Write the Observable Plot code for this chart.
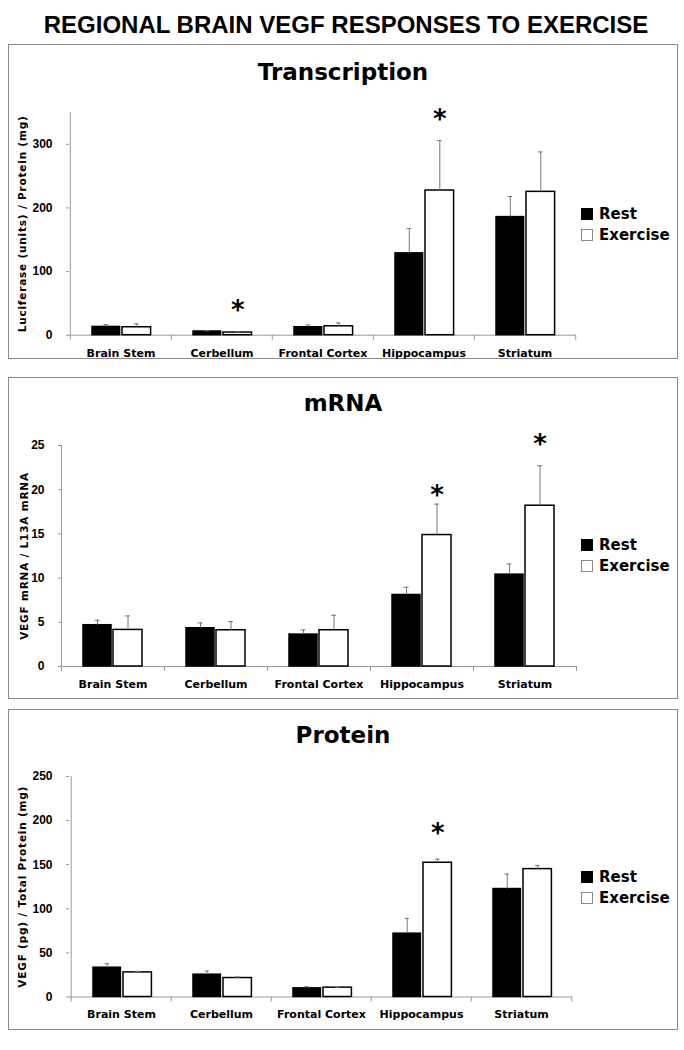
<!DOCTYPE html>
<html><head><meta charset="utf-8">
<script src="https://cdn.jsdelivr.net/npm/d3@7"></script>
<script src="https://cdn.jsdelivr.net/npm/@observablehq/plot@0.6"></script>
<style>
body{margin:0;background:#fff;width:684px;height:1050px;position:relative;font-family:"DejaVu Sans",Verdana,sans-serif;}
#title{position:absolute;left:0;width:692px;top:10px;text-align:center;font-family:"Liberation Sans",Arial,sans-serif;font-weight:bold;font-size:24px;line-height:30px;}
.panel{position:absolute;left:8px;width:670px;box-sizing:border-box;border:1px solid #8a8a8a;background:#fff;}
.panel svg{position:absolute;left:0;top:0;}
.ptitle{position:absolute;left:0;right:0;text-align:center;font-weight:bold;font-size:23px;line-height:28px;}
.legend{position:absolute;left:572px;font-weight:bold;font-size:15px;}
.legend .row{display:flex;align-items:center;height:21px;}
.legend .sw{width:12px;height:12px;box-sizing:border-box;margin-right:6px;}
</style>
</head><body>
<div id="title">REGIONAL BRAIN VEGF RESPONSES TO EXERCISE</div>
<div id="root"></div>
<script>
const regions = ["Brain Stem", "Cerbellum", "Frontal Cortex", "Hippocampus", "Striatum"];
const conditions = ["Rest", "Exercise"];

// Transcription
const transRest   = [13.0, 5.8, 12.5, 128.6, 185.6];
const transRestSE = [3.7, 1.0, 3.7, 39.2, 32.4];
const transEx     = [12.5, 4.2, 14.0, 227.4, 225.3];
const transExSE   = [5.3, 1.0, 5.3, 78.4, 62.7];
const transStarRegions = ["Cerbellum", "Hippocampus"];
const transStarY = [50, 349];
const transTicks = [0, 100, 200, 300];
const transMax = 350;

// mRNA
const mrnaRest   = [4.67, 4.33, 3.61, 8.09, 10.39];
const mrnaRestSE = [0.56, 0.60, 0.53, 0.87, 1.21];
const mrnaEx     = [4.14, 4.10, 4.10, 14.87, 18.19];
const mrnaExSE   = [1.58, 0.98, 1.70, 3.50, 4.51];
const mrnaStarRegions = ["Hippocampus", "Striatum"];
const mrnaStarY = [20.1, 25.9];
const mrnaTicks = [0, 5, 10, 15, 20, 25];
const mrnaMax = 25;

// Protein
const protRest   = [33.2, 25.3, 9.8, 71.8, 122.4];
const protRestSE = [4.6, 4.2, 1.9, 17.3, 17.0];
const protEx     = [27.9, 21.5, 10.6, 152.2, 145.0];
const protExSE   = [1.2, 1.2, 0.4, 4.1, 4.2];
const protStarRegions = ["Hippocampus"];
const protStarY = [192.6];
const protTicks = [0, 50, 100, 150, 200, 250];
const protMax = 250;

function rowsOf(rest, restSE, ex, exSE) {
  const out = [];
  regions.forEach((r, i) => {
    out.push({region: r, condition: "Rest", value: rest[i], top: rest[i] + restSE[i]});
    out.push({region: r, condition: "Exercise", value: ex[i], top: ex[i] + exSE[i]});
  });
  return out;
}

const FONT = "DejaVu Sans, Verdana, sans-serif";
const NUMFONT = "Liberation Sans Narrow, Arial Narrow, Liberation Sans, sans-serif";
const geom = {Rest: {l: 22, r: 50}, Exercise: {l: 52, r: 81}};

function makePanel(cfg) {
  const {top, height, title, titleTop, legendTop, ml, mr, mt, mb, ymax, ticks, label, labelDx,
         rows, starRegions, starY} = cfg;
  const W = 668, H = height - 2;
  const bw = (W - ml - mr) / regions.length;
  const panel = document.createElement("div");
  panel.className = "panel";
  panel.style.top = top + "px";
  panel.style.height = height + "px";
  document.getElementById("root").appendChild(panel);

  const marks = [
    Plot.ruleY([0], {stroke: "#999", strokeWidth: 1}),
    Plot.ruleX([regions[0]], {x: d => d, y1: 0, y2: ymax, dx: -bw / 2, stroke: "#999"}),
    Plot.ruleX(regions, {x: d => d, y1: 0, y2: 0, dx: -bw / 2, insetBottom: -5, stroke: "#999"}),
    Plot.ruleX([regions[regions.length - 1]], {x: d => d, y1: 0, y2: 0, dx: bw / 2, insetBottom: -5, stroke: "#999"}),
  ];
  for (const c of conditions) {
    const g = geom[c];
    const data = rows.filter(d => d.condition === c);
    const center = (g.l + g.r) / 2;
    marks.push(Plot.barY(data, {x: "region", y: "value", insetLeft: g.l, insetRight: bw - g.r,
      fill: c === "Rest" ? "black" : "white", stroke: "black", strokeWidth: 1.5}));
    marks.push(Plot.ruleX(data, {x: "region", y1: "value", y2: "top", dx: center - bw / 2, stroke: "#777", strokeWidth: 1}));
    marks.push(Plot.tickY(data, {x: "region", y: "top", insetLeft: center - 2.5, insetRight: bw - center - 2.5, stroke: "#777", strokeWidth: 1}));
  }
  const exCenter = (geom.Exercise.l + geom.Exercise.r) / 2;
  const stars = starRegions.map((r, i) => ({region: r, y: starY[i]}));
  marks.push(Plot.text(stars, {x: "region", y: "y", text: () => "*", dx: exCenter - bw / 2, dy: 7,
    fontSize: 26, fontWeight: "bold", fontFamily: FONT, fill: "black"}));
  marks.push(Plot.axisX({tickSize: 0, tickPadding: 13.5, fontSize: 11, fontWeight: "bold", fontFamily: FONT, fill: "black"}));
  marks.push(Plot.axisY({ticks, tickSize: 3, tickPadding: 14, stroke: "#999", fill: "black", label: null,
    fontSize: 12, fontWeight: "bold", fontFamily: NUMFONT}));
  marks.push(Plot.text([label], {frameAnchor: "left", textAnchor: "middle", lineAnchor: "middle", rotate: -90, dx: labelDx, fontSize: 10.5,
    fontWeight: "bold", fontFamily: FONT, fill: "black"}));

  const svg = Plot.plot({
    width: W, height: H,
    marginLeft: ml, marginRight: mr, marginTop: mt, marginBottom: mb,
    x: {type: "band", domain: regions, padding: 0, label: null},
    y: {domain: [0, ymax], label: null},
    style: {background: "transparent", overflow: "visible", fontFamily: FONT},
    marks
  });
  svg.querySelectorAll("text").forEach(t => { if (t.textContent === label) t.style.letterSpacing = "0.8px"; });
  panel.appendChild(svg);

  const tt = document.createElement("div");
  tt.className = "ptitle";
  tt.style.top = titleTop + "px";
  tt.textContent = title;
  panel.appendChild(tt);

  const lg = document.createElement("div");
  lg.className = "legend";
  lg.style.top = legendTop + "px";
  lg.innerHTML = conditions.map(c =>
    `<div class="row"><span class="sw" style="background:${c === "Rest" ? "#000" : "#fff"};border:1px solid ${c === "Rest" ? "#000" : "#888"}"></span>${c}</div>`).join("");
  panel.appendChild(lg);
}

makePanel({top: 44, height: 315, title: "Transcription", titleTop: 13, legendTop: 158.5,
  ml: 60, mr: 101, mt: 67, mb: 23.3, ymax: transMax, ticks: transTicks,
  label: "Luciferase (units) / Protein (mg)", labelDx: -47,
  rows: rowsOf(transRest, transRestSE, transEx, transExSE), starRegions: transStarRegions, starY: transStarY});

makePanel({top: 377, height: 322, title: "mRNA", titleTop: 11, legendTop: 156.5,
  ml: 52, mr: 101, mt: 67, mb: 32, ymax: mrnaMax, ticks: mrnaTicks,
  label: "VEGF mRNA / L13A mRNA", labelDx: -37,
  rows: rowsOf(mrnaRest, mrnaRestSE, mrnaEx, mrnaExSE), starRegions: mrnaStarRegions, starY: mrnaStarY});

makePanel({top: 709, height: 321, title: "Protein", titleTop: 11, legendTop: 156.5,
  ml: 60, mr: 105, mt: 66, mb: 32.5, ymax: protMax, ticks: protTicks,
  label: "VEGF (pg) / Total Protein (mg)", labelDx: -46.5,
  rows: rowsOf(protRest, protRestSE, protEx, protExSE), starRegions: protStarRegions, starY: protStarY});
</script>
</body></html>
